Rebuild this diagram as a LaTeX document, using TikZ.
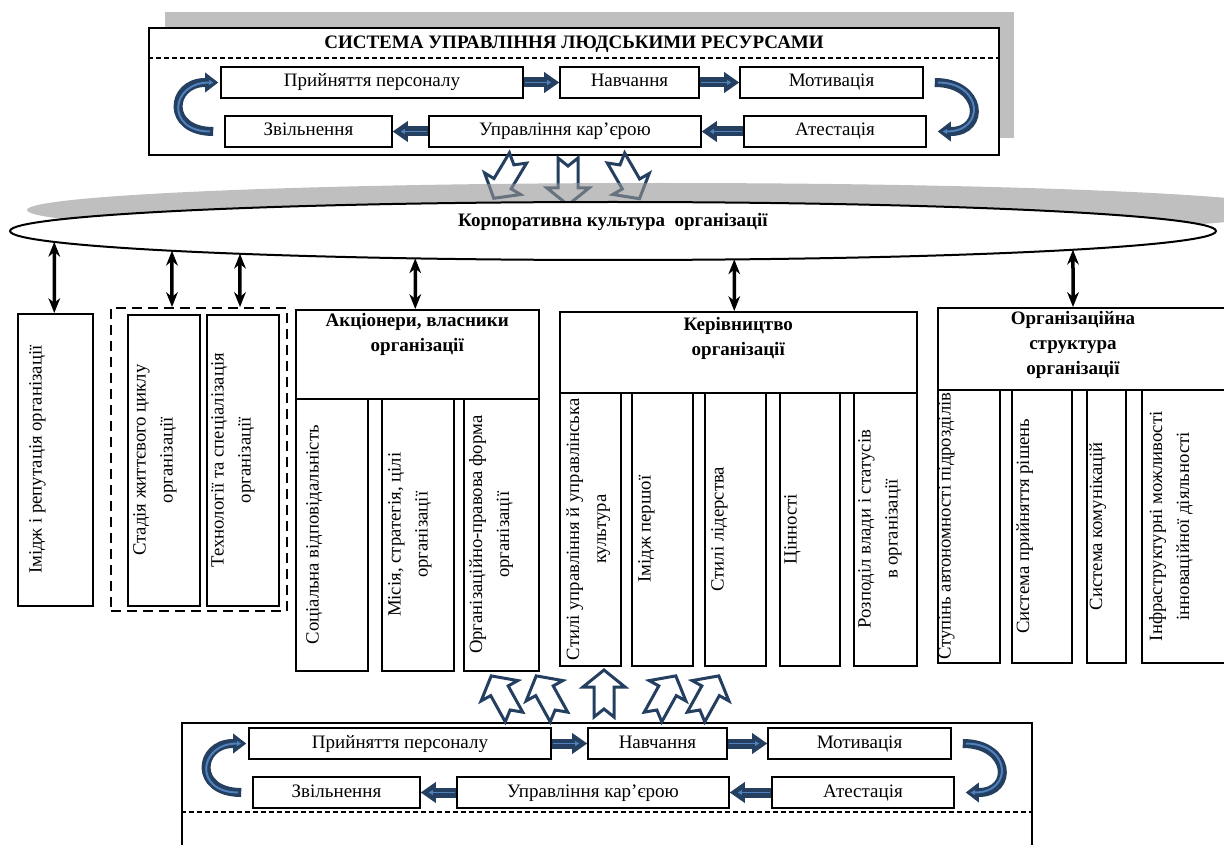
\documentclass[tikz,border=0pt]{standalone}
\usepackage{fontspec}
\setmainfont{Liberation Serif}
\usetikzlibrary{positioning,arrows.meta,shapes.geometric,intersections}

\definecolor{navy}{RGB}{36,63,96}
\definecolor{lightblue}{RGB}{79,129,189}
\definecolor{shadowgray}{RGB}{191,191,191}
\definecolor{shadowtint}{RGB}{148,148,148}

\tikzset{
  pics/hollowarrow/.style={code={
    \draw[navy, line width=3pt, fill=white, line join=miter]
      (0,-10) -- (30,-10) -- (30,-21) -- (47,0) -- (30,21) -- (30,10) -- (0,10) -- (8,0) -- cycle;
  }}
}

\begin{document}
\begin{tikzpicture}[
    x=1pt, y=-1pt,
    cyclebox/.style={rectangle, draw, line width=1.6pt, fill=white, minimum height=31pt, inner sep=0pt, text height=13pt, text depth=4pt, font=\fontsize{19}{22}\selectfont},
    framebox/.style={rectangle, draw, line width=2pt, fill=white, anchor=north west, inner sep=0pt},
    subbox/.style={rectangle, draw, line width=1.5pt, anchor=north west, inner sep=0pt},
    vtext/.style={rotate=90, anchor=north, inner sep=0pt, align=center, font=\fontsize{18.7}{27}\selectfont},
    headtext/.style={inner sep=0pt, align=center, font=\bfseries\fontsize{19}{25}\selectfont},
    sepline/.style={dash pattern=on 5pt off 3pt, line width=1.5pt},
    blockarrow/.style={navy, line width=10pt, -{Triangle[length=15pt,width=21pt,line width=0pt]}},
    innerline/.style={lightblue, line width=1.8pt, -{Triangle[length=4pt,width=5pt,line width=0pt]}},
    curvearrow/.style={navy, line width=9pt, -{Triangle[length=13pt,width=20pt,line width=0pt]}},
    innercurve/.style={lightblue, line width=2pt, shorten <=3pt, shorten >=5pt, -{Triangle[length=4pt,width=5pt,line width=0pt]}},
    dblarrow/.style={line width=3.5pt, {Stealth[length=15pt,width=12pt,line width=0pt]}-{Stealth[length=15pt,width=12pt,line width=0pt]}}
  ]
  \useasboundingbox (0,0) rectangle (1224,845);
  \clip (0,0) rectangle (1224,845);

  % top panel: HR management system
  \fill[shadowgray] (165,12) rectangle (1014,138);
  \node[framebox, minimum width=850pt, minimum height=127pt] (hrtop) at (148,27) {};
  \node[headtext, below=9pt of hrtop.north] (hrtitle) {СИСТЕМА УПРАВЛІННЯ ЛЮДСЬКИМИ РЕСУРСАМИ};
  \draw[sepline] (hrtop.west |- 0,58) -- (hrtop.east |- 0,58);

  % bottom panel
  \node[framebox, minimum width=850pt, minimum height=200pt] (hrbot) at (181,722) {};
  \draw[sepline] (hrbot.west |- 0,812) -- (hrbot.east |- 0,812);

  % the personnel cycle, drawn in both panels
  \foreach \p/\dx/\dy in {T/0/0, B/28/661}{
    \begin{scope}[shift={(\dx,\dy)}]
      \node[cyclebox, minimum width=302pt] (hire\p)   at (372,82.5)    {Прийняття персоналу};
      \node[cyclebox, minimum width=139pt] (train\p)  at (629.5,82.5)  {Навчання};
      \node[cyclebox, minimum width=183pt] (motiv\p)  at (831.5,82.5)  {Мотивація};
      \node[cyclebox, minimum width=167pt] (fire\p)   at (308.5,131.5) {Звільнення};
      \node[cyclebox, minimum width=272pt] (career\p) at (565,131.5)   {Управління кар’єрою};
      \node[cyclebox, minimum width=182pt] (attest\p) at (835,131.5)   {Атестація};
    \end{scope}
    \foreach \a/\b in {hire/train, train/motiv}{
      \draw[blockarrow] (\a\p.east) -- (\b\p.west);
      \draw[innerline] ([xshift=1pt]\a\p.east) -- ([xshift=-8pt]\b\p.west);
    }
    \foreach \a/\b in {attest/career, career/fire}{
      \draw[blockarrow] (\a\p.west) -- (\b\p.east);
      \draw[innerline] ([xshift=-1pt]\a\p.west) -- ([xshift=8pt]\b\p.east);
    }
    \draw[curvearrow] ([xshift=-11pt]fire\p.west) .. controls +(-48,0) and +(-48,0) .. ([xshift=-2pt]hire\p.west);
    \draw[innercurve] ([xshift=-11pt]fire\p.west) .. controls +(-48,0) and +(-48,0) .. ([xshift=-2pt]hire\p.west);
    \draw[curvearrow] ([xshift=11pt]motiv\p.east) .. controls +(48,0) and +(48,0) .. ([xshift=11pt]attest\p.east);
    \draw[innercurve] ([xshift=11pt]motiv\p.east) .. controls +(48,0) and +(48,0) .. ([xshift=11pt]attest\p.east);
  }

  % hollow arrows
  \foreach \dx/\ang in {-56/-121, -6/-90, 42/-60}
    \pic[rotate=\ang] at ([xshift=\dx pt, yshift=-2pt]hrtop.south) {hollowarrow};
  \foreach \dx/\ang in {-93/119, -48/119, -3/90, 46/61, 89/61}
    \pic[rotate=\ang] at ([xshift=\dx pt, yshift=5pt]hrbot.north) {hollowarrow};

  % corporate culture
  \fill[shadowtint, fill opacity=0.6] (660,210) ellipse [x radius=633pt, y radius=27pt];
  \node[ellipse, draw, line width=2pt, fill=white, minimum width=1206pt, minimum height=58pt, inner sep=0pt, name path=corp] (corp) at (613,231) {};
  \node[headtext] (corptext) at ([yshift=9pt]corp.center) {Корпоративна культура\ \ організації};

  % left column
  \node[subbox, minimum width=75pt, minimum height=292pt] (imidzh) at (17,313) {};
  \node[vtext] at ([xshift=12pt]imidzh.west) {Імідж і репутація організації};
  \node[subbox, dash pattern=on 10pt off 6pt, minimum width=176pt, minimum height=303pt] (grp) at (110,307) {};
  \node[subbox, minimum width=72pt, minimum height=291pt] (stage) at (127,314) {};
  \node[vtext] at ([xshift=6pt]stage.west) {Стадія життєвого циклу\\організації};
  \node[subbox, minimum width=72pt, minimum height=291pt] (tech) at (206,314) {};
  \node[vtext] at ([xshift=5pt]tech.west) {Технології та спеціалізація\\організації};

  % shareholders
  \node[subbox, minimum width=243pt, minimum height=89pt] (share) at (295,309) {};
  \node[headtext, below=4pt of share.north] {Акціонери, власники\\організації};
  \node[subbox, minimum width=72pt, minimum height=272pt] (socresp) at (295,398) {};
  \node[vtext] at ([xshift=11pt]socresp.west) {Соціальна відповідальність};
  \node[subbox, minimum width=72pt, minimum height=272pt] (mission) at (381,398) {};
  \node[vtext] at ([xshift=7pt]mission.west) {Місія, стратегія, цілі\\організації};
  \node[subbox, minimum width=75pt, minimum height=272pt] (legal) at (463,398) {};
  \node[vtext] at ([xshift=6pt]legal.west) {Організаційно-правова форма\\організації};

  % leadership
  \node[subbox, minimum width=357pt, minimum height=81pt] (lead) at (559,311) {};
  \node[headtext, below=6pt of lead.north] {Керівництво\\організації};
  \node[subbox, minimum width=61pt, minimum height=273pt] (mgmtstyle) at (559,392) {};
  \node[vtext] at ([xshift=7pt]mgmtstyle.west) {Стилі управління й управлінська\\культура};
  \node[subbox, minimum width=61pt, minimum height=273pt] (firstimage) at (631,392) {};
  \node[vtext] at ([xshift=7pt]firstimage.west) {Імідж першої};
  \node[subbox, minimum width=61pt, minimum height=273pt] (leadstyle) at (704,392) {};
  \node[vtext] at ([xshift=7pt]leadstyle.west) {Стилі лідерства};
  \node[subbox, minimum width=60pt, minimum height=273pt] (values) at (779,392) {};
  \node[vtext] at ([xshift=5pt]values.west) {Цінності};
  \node[subbox, minimum width=63pt, minimum height=273pt] (power) at (853,392) {};
  \node[vtext] at ([xshift=5pt]power.west) {Розподіл влади і статусів\\в організації};

  % organisational structure
  \node[subbox, minimum width=310pt, minimum height=82pt] (struct) at (937,307) {};
  \node[headtext, below=4pt of struct.north west, xshift=136pt] {Організаційна\\структура\\організації};
  \node[subbox, minimum width=62pt, minimum height=273pt] (autonomy) at (937,389) {};
  \node[vtext] at ([xshift=1pt]autonomy.west) {Ступінь автономності підрозділів};
  \node[subbox, minimum width=60pt, minimum height=273pt] (decision) at (1011,389) {};
  \node[vtext] at ([xshift=5pt]decision.west) {Система прийняття рішень};
  \node[subbox, minimum width=39pt, minimum height=273pt] (comm) at (1086,389) {};
  \node[vtext] at ([xshift=3pt]comm.west) {Система комунікацій};
  \node[subbox, minimum width=110pt, minimum height=273pt] (infra) at (1141,389) {};
  \node[vtext] at ([xshift=8pt]infra.west) {Інфраструктурні можливості\\інноваційної діяльності};

  % links to the corporate culture
  \coordinate (imidzhtop) at ([xshift=-1pt]imidzh.north);
  \coordinate (stagetop)  at ([xshift=62pt]grp.north west);
  \coordinate (techtop)   at ([xshift=130pt]grp.north west);
  \coordinate (sharetop)  at ([xshift=-2pt]share.north);
  \coordinate (leadtop)   at ([xshift=-4pt]lead.north);
  \coordinate (structtop) at ([xshift=136pt]struct.north west);
  \foreach \nm in {imidzh, stage, tech, share, lead, struct}{
    \path[name path=up] (\nm top) -- ++(0,-80);
    \draw[dblarrow, name intersections={of=corp and up}] (\nm top) -- (intersection-1);
  }
\end{tikzpicture}
\end{document}
